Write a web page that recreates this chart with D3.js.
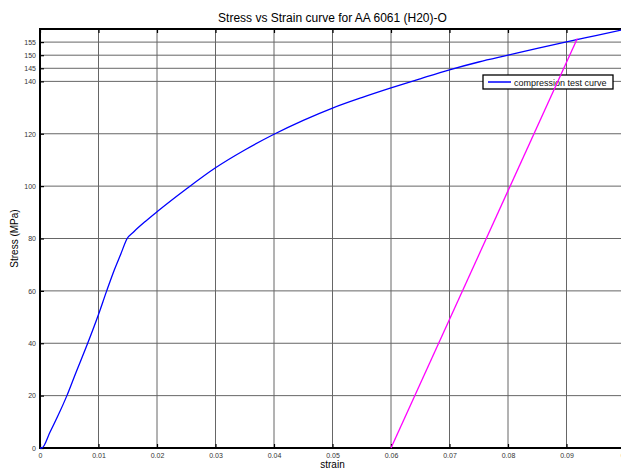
<!DOCTYPE html>
<html>
<head>
<meta charset="utf-8">
<style>
body { margin: 0; background: #fff; }
text { font-family: "Liberation Sans", Arial, Helvetica, sans-serif; }
</style>
</head>
<body>
<div id="chart"></div>
<script src="https://d3js.org/d3.v7.min.js"></script>
<script>
// compression test curve
var strain = [0, 0.0003, 0.0017, 0.003, 0.0046, 0.006, 0.00815, 0.01, 0.0114, 0.0127, 0.0138, 0.0149,
              0.016, 0.018, 0.02, 0.025, 0.03, 0.035, 0.04, 0.045, 0.05, 0.055, 0.06,
              0.065, 0.07, 0.075, 0.08, 0.085, 0.09, 0.095, 0.1];
var stress = [0, 0, 6, 12, 20, 28, 40, 51, 60, 68, 74, 80,
              82.5, 86.5, 90.2, 98.9, 107, 113.8, 119.8, 125.1, 129.8, 133.8, 137.5,
              141.0, 144.4, 147.4, 150, 152.6, 155.1, 157.5, 159.9];

// offset (unloading) line
var offStrain = [0.06, 0.09185];
var offStress = [0, 156.4];

var xTicks = [0, 0.01, 0.02, 0.03, 0.04, 0.05, 0.06, 0.07, 0.08, 0.09, 0.1];
var yTicks = [0, 20, 40, 60, 80, 100, 120, 140, 145, 150, 155];

var W = 621, H = 468;
var pL = 40, pT = 29, pR = 625, pB = 448;

var svg = d3.select("#chart").append("svg")
    .attr("width", W).attr("height", H);

var x = d3.scaleLinear().domain([0, 0.1]).range([pL, pR]);
var y = d3.scaleLinear().domain([0, 160]).range([pB, pT]);

// grid
svg.append("g").selectAll("line").data(xTicks).enter().append("line")
    .attr("x1", function (d) { return x(d); }).attr("x2", function (d) { return x(d); })
    .attr("y1", pT).attr("y2", pB)
    .attr("stroke", "#666").attr("stroke-width", 1);
svg.append("g").selectAll("line").data(yTicks).enter().append("line")
    .attr("x1", pL).attr("x2", pR)
    .attr("y1", function (d) { return y(d); }).attr("y2", function (d) { return y(d); })
    .attr("stroke", "#666").attr("stroke-width", 1);

// axes, ticks pointing inward
var fmt = function (d) { return d === 0 ? "0" : d3.format(".2~f")(d); };
var xAx = svg.append("g").attr("transform", "translate(0," + pB + ")")
    .call(d3.axisBottom(x).tickValues(xTicks).tickSize(-4).tickPadding(4).tickFormat(fmt));
var xTop = svg.append("g").attr("transform", "translate(0," + pT + ")")
    .call(d3.axisTop(x).tickValues(xTicks).tickSize(-4).tickFormat(""));
var yAx = svg.append("g").attr("transform", "translate(" + pL + ",0)")
    .call(d3.axisLeft(y).tickValues(yTicks).tickSize(-4).tickPadding(4));
[xAx, xTop, yAx].forEach(function (g) {
    g.select(".domain").remove();
    g.selectAll(".tick line").attr("stroke", "#000").attr("stroke-width", 1.2);
    g.selectAll(".tick text").attr("fill", "#333").style("font-size", "7px");
});
xAx.selectAll(".tick text").attr("dy", "0.9em");

// box
svg.append("rect").attr("x", pL).attr("y", pT)
    .attr("width", pR - pL).attr("height", pB - pT)
    .attr("fill", "none").attr("stroke", "#000").attr("stroke-width", 2);

var line = d3.line().x(function (d) { return x(d[0]); }).y(function (d) { return y(d[1]); });

svg.append("path")
    .datum(d3.zip(strain, stress))
    .attr("d", line.curve(d3.curveMonotoneX))
    .attr("fill", "none").attr("stroke", "#0000ff").attr("stroke-width", 1.3);

// legend
var lg = svg.append("g");
lg.append("rect").attr("x", 483).attr("y", 75).attr("width", 130).attr("height", 14)
    .attr("fill", "#fff").attr("stroke", "#000").attr("stroke-width", 1.3);
lg.append("line").attr("x1", 488).attr("x2", 511).attr("y1", 82).attr("y2", 82)
    .attr("stroke", "#0000ff").attr("stroke-width", 1.5);
lg.append("text").attr("x", 514).attr("y", 85.5).style("font-size", "9px")
    .attr("fill", "#111").text("compression test curve");

svg.append("path")
    .datum(d3.zip(offStrain, offStress))
    .attr("d", line.curve(d3.curveLinear))
    .attr("fill", "none").attr("stroke", "#ff00ff").attr("stroke-width", 1.3);

// labels
svg.append("text").attr("x", (pL + pR) / 2).attr("y", 22)
    .attr("text-anchor", "middle").style("font-size", "12px")
    .text("Stress vs Strain curve for AA 6061 (H20)-O");
svg.append("text").attr("x", (pL + pR) / 2).attr("y", 468)
    .attr("text-anchor", "middle").style("font-size", "10px")
    .text("strain");
svg.append("text")
    .attr("transform", "translate(18," + (pT + pB) / 2 + ") rotate(-90)")
    .attr("text-anchor", "middle").style("font-size", "10px")
    .text("Stress (MPa)");
</script>
</body>
</html>
